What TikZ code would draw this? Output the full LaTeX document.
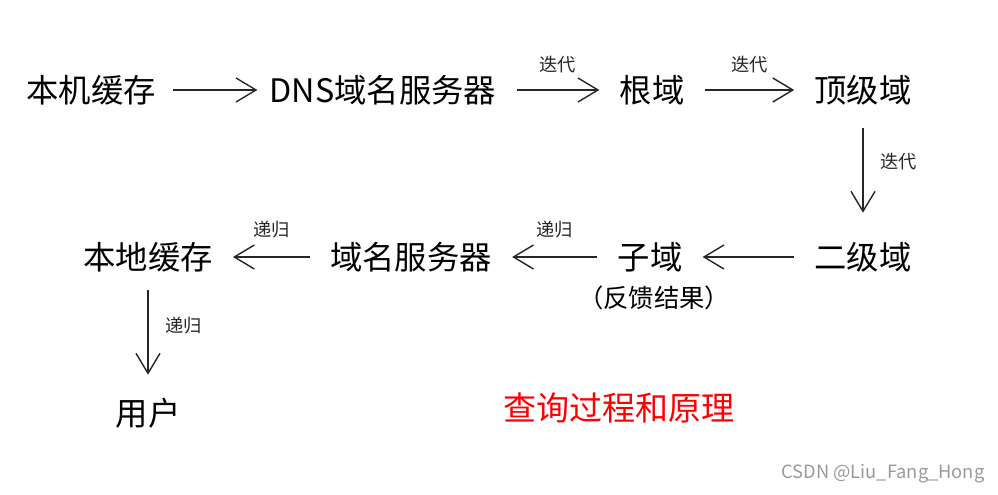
\documentclass[tikz,border=0pt]{standalone}
\usepackage{fontspec}
\setmainfont{Noto Sans CJK SC}
\usepackage{tikz}
\usetikzlibrary{arrows.meta}

\begin{document}
\begin{tikzpicture}[x=0.025cm, y=-0.025cm, >={Straight Barb[length=0.5cm, width=0.6cm]},
  term/.style={inner sep=0pt, text height=0.7cm, text depth=0.1cm, font=\fontsize{23}{23}\selectfont},
  link/.style={->, line width=1pt, black!85, shorten <=0.5cm, shorten >=0.5cm},
  lbl/.style={inner sep=1pt, font=\fontsize{13}{13}\selectfont, black!85}]
  \useasboundingbox (0,0) rectangle (998,494);
  \node[term] (hostcache) at (91,90) {本机缓存};
  \node[term] (dnsserver) at (383,90) {DNS域名服务器};
  \node[term] (rootdom) at (652,90) {根域};
  \node[term] (topdom) at (863,90) {顶级域};
  \node[term] (seconddom) at (863,257) {二级域};
  \node[term] (subdom) at (650,257) {子域};
  \node[font=\fontsize{18}{18}\selectfont, inner sep=0pt] (feedback) at (654,298) {（反馈结果）};
  \node[term] (nameserver) at (411,257) {域名服务器};
  \node[term] (localcache) at (148,257) {本地缓存};
  \node[term] (user) at (148,413) {用户};
  \draw[link, shorten <=0.42cm, shorten >=0.3cm] (hostcache) -- (dnsserver);
  \draw[link] (dnsserver) -- node[lbl, above=0.38cm] {迭代} (rootdom);
  \draw[link] (rootdom) -- node[lbl, above=0.38cm] {迭代} (topdom);
  \draw[link, shorten <=0.55cm, shorten >=0.7cm] (topdom) -- node[lbl, pos=0.41, right=0.38cm] {迭代} (seconddom);
  \draw[link] (seconddom) -- (subdom);
  \draw[link] (subdom) -- node[lbl, above=0.42cm] {递归} (nameserver);
  \draw[link] (nameserver) -- node[lbl, above=0.42cm] {递归} (localcache);
  \draw[link, shorten <=0.42cm, shorten >=0.55cm] (localcache) -- node[lbl, pos=0.42, right=0.38cm] {递归} (user);
  \node[red, font=\fontsize{23.5}{23.5}\selectfont] (title) at (619,408) {查询过程和原理};
  \node[black!40, font=\fontsize{13}{13}\selectfont] (mark) at (883,474) {CSDN @Liu\_Fang\_Hong};
\end{tikzpicture}
\end{document}
